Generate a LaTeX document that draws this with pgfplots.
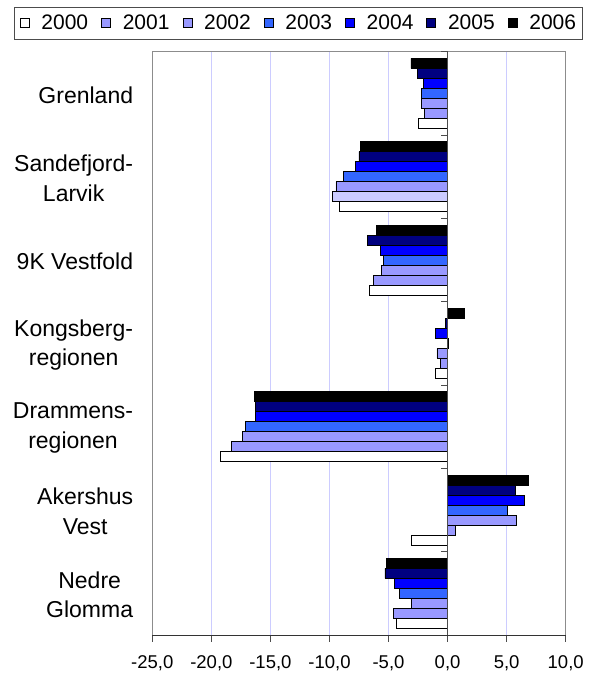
\documentclass[border=0pt]{standalone}
\usepackage{fontspec}
\setmainfont{Liberation Sans}
\usepackage{pgfplots}
\pgfplotsset{compat=1.18}
\definecolor{c2000}{HTML}{FFFFFF}
\definecolor{c2001}{HTML}{9999FF}
\definecolor{c2002}{HTML}{9999FF}
\definecolor{c2003}{HTML}{3366FF}
\definecolor{c2004}{HTML}{0000FF}
\definecolor{c2005}{HTML}{000080}
\definecolor{c2006}{HTML}{000000}
\definecolor{lightbar}{HTML}{CCCCFF}
\definecolor{gridc}{HTML}{CCCCFF}
\begin{document}
\begin{tikzpicture}
\begin{axis}[
  name=main,
  scale only axis,
  width=413.4pt, height=583.3pt,
  xmin=-25, xmax=10, ymin=-0.5, ymax=6.5,
  xbar, bar width=0.12,
  axis line style={draw=black!45, line width=0.8pt},
  xtick={-25,-20,...,10}, xticklabels={},
  xmajorgrids, grid style={gridc, line width=0.6pt},
  major tick length=0pt,
  ytick={0,1,2,3,4,5,6},
  yticklabels={{Nedre\\Glomma},{Akershus\\Vest},{Drammens-\\regionen},{Kongsberg-\\regionen},{9K Vestfold},{Sandefjord-\\Larvik},{Grenland}},
  yticklabel style={align=center, font=\fontsize{23}{29.5}\selectfont, inner xsep=0pt, xshift=-19pt, yshift=-1.5pt},
  legend columns=7,
  legend image code/.code={\draw[#1, line width=0.6pt] (0pt,-4.5pt) rectangle (9pt,4.5pt);},
  legend style={at={(0.3524,1.0492)}, anchor=center, draw=black!70, line width=0.6pt,
    font=\fontsize{21}{25}\selectfont, inner xsep=6pt, inner ysep=7pt,
    nodes={inner xsep=0pt, inner ysep=0pt, text height=15pt, text depth=3pt},
    /tikz/every odd column/.append style={column sep=12pt},
    /tikz/every even column/.append style={column sep=13pt}},
  every axis plot/.append style={draw=black, line width=0.8pt},
]
\addplot[fill=c2000, bar shift=-0.36] coordinates {(-4.3,0) (-3.05,1) (-19.25,2) (-1.0,3) (-6.65,4) (-9.15,5) (-2.45,6)};
\addplot[fill=c2001, bar shift=-0.24] coordinates {(-4.6,0) (0.7,1) (-18.3,2) (-0.6,3) (-6.3,4) (-9.75,5) (-1.95,6)};
\addplot[fill=c2002, bar shift=-0.12] coordinates {(-3.05,0) (5.8,1) (-17.35,2) (-0.9,3) (-5.6,4) (-9.45,5) (-2.2,6)};
\addplot[fill=c2003, bar shift=0] coordinates {(-4.1,0) (5.05,1) (-17.15,2) (0.1,3) (-5.4,4) (-8.8,5) (-2.2,6)};
\addplot[fill=c2004, bar shift=0.12] coordinates {(-4.5,0) (6.5,1) (-16.3,2) (-1.0,3) (-5.65,4) (-7.8,5) (-2.05,6)};
\addplot[fill=c2005, bar shift=0.24] coordinates {(-5.3,0) (5.7,1) (-16.3,2) (-0.2,3) (-6.8,4) (-7.5,5) (-2.55,6)};
\addplot[fill=c2006, bar shift=0.36] coordinates {(-5.15,0) (6.85,1) (-16.35,2) (1.4,3) (-6.0,4) (-7.4,5) (-3.1,6)};
\addplot[fill=lightbar, bar shift=-0.24, forget plot] coordinates {(-9.75,5)};
\legend{2000,2001,2002,2003,2004,2005,2006}
\end{axis}
\begin{axis}[
  scale only axis,
  width=413.4pt, height=583.3pt,
  xmin=-25, xmax=10, ymin=-0.5, ymax=6.5,
  axis x line=bottom, axis y line=middle,
  hide obscured x ticks=false, hide obscured y ticks=false,
  axis line style={-},
  x axis line style={draw=black!80, line width=0.8pt},
  y axis line style={draw=black!70, line width=0.8pt},
  xtick={-25,-20,...,10},
  xticklabels={{-25,0},{-20,0},{-15,0},{-10,0},{-5,0},{0,0},{5,0},{10,0}},
  xticklabel style={font=\fontsize{18.5}{22}\selectfont, yshift=-11pt},
  ytick={-0.5,0.5,...,6.5}, yticklabels={},
  tick align=outside,
  major tick length=6.5pt,
  x tick style={draw=black!70, line width=0.8pt},
  y tick style={draw=black!70, line width=0.8pt},
]
\end{axis}
\pgfresetboundingbox
\path ([xshift=-152.3pt,yshift=-40pt]main.south west) rectangle ([xshift=32.3pt,yshift=51.7pt]main.north east);
\end{tikzpicture}
\end{document}
